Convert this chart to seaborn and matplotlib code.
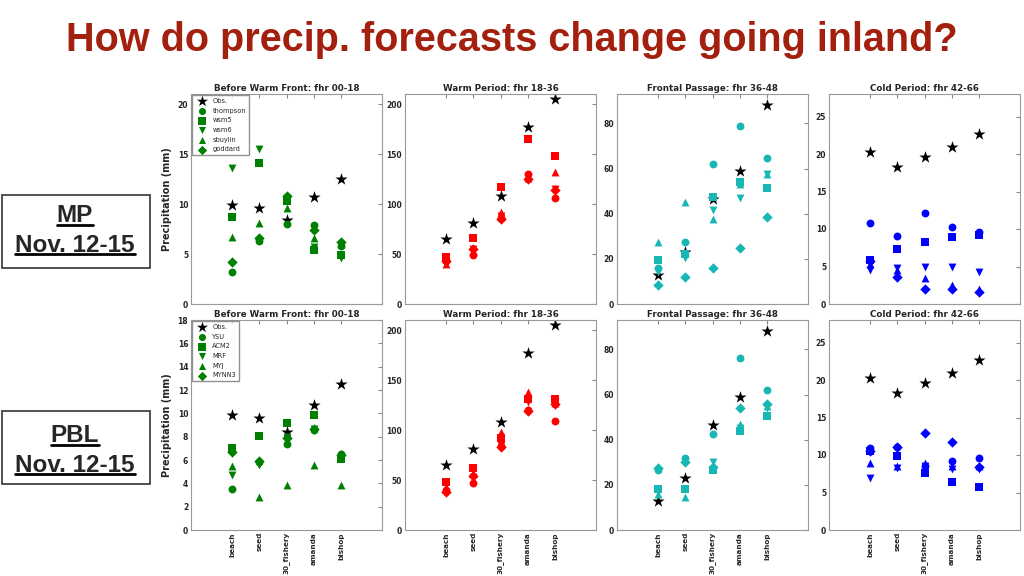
import seaborn as sns
import matplotlib.pyplot as plt
from matplotlib.patches import Rectangle
from matplotlib.lines import Line2D

sites = ["beach", "seed", "30_fishery", "amanda", "bishop"]
periods = ["Before Warm Front: fhr 00-18", "Warm Period: fhr 18-36",
           "Frontal Passage: fhr 36-48", "Cold Period: fhr 42-66"]
period_colors = ["green", "red", "#17B8B4", "blue"]

# observations, same for both rows
obs_before = [9.9, 9.6, 8.4, 10.7, 12.5]
obs_warm = [65, 81, 108, 177, 205]
obs_frontal = [13, 23, 46.5, 59, 88]
obs_cold = [20.3, 18.3, 19.6, 20.9, 22.7]

# microphysics runs: thompson, wsm5, wsm6, sbuylin, goddard
mp_names = ["thompson", "wsm5", "wsm6", "sbuylin", "goddard"]
mp_before = [[3.2, 6.3, 8.0, 7.9, 5.8],
             [8.7, 14.1, 10.3, 5.4, 4.9],
             [13.6, 15.5, 10.6, 5.7, 4.6],
             [6.7, 8.1, 9.6, 6.6, 6.0],
             [4.2, 6.6, 10.8, 7.4, 6.2]]
mp_warm = [[43, 49, 86, 130, 106],
           [47, 66, 117, 165, 148],
           [42, 55, 88, 127, 115],
           [40, 53, 92, 126, 132],
           [43, 55, 85, 125, 114]]
mp_frontal = [[16, 27.5, 62, 79, 64.5],
              [19.5, 22, 47.5, 54, 51.5],
              [14, 20.5, 41.5, 47, 57.5],
              [27.5, 45, 37.5, 53, 57.5],
              [8.5, 12, 16, 25, 38.5]]
mp_cold = [[10.8, 9.1, 12.1, 10.3, 9.6],
           [5.9, 7.3, 8.3, 9.0, 9.2],
           [4.5, 4.8, 4.9, 4.9, 4.3],
           [5.3, 4.5, 3.5, 2.6, 2.0],
           [5.7, 3.6, 2.0, 2.0, 1.6]]

# boundary layer runs: YSU, ACM2, MRF, MYJ, MYNN3
pbl_names = ["YSU", "ACM2", "MRF", "MYJ", "MYNN3"]
pbl_before = [[3.5, 5.8, 7.4, 8.6, 6.5],
              [7.0, 8.1, 9.2, 9.9, 6.1],
              [4.7, 5.6, 8.0, 8.7, 6.3],
              [5.5, 2.8, 3.9, 5.6, 3.9],
              [6.7, 5.9, 7.9, 8.7, 6.4]]
pbl_warm = [[40, 47, 84, 120, 109],
            [48, 62, 92, 131, 131],
            [45, 53, 85, 128, 128],
            [42, 57, 98, 138, 127],
            [38, 54, 83, 119, 126]]
pbl_frontal = [[26.5, 32, 42.5, 76, 62],
               [18, 18, 26.5, 44, 50.5],
               [17, 18, 30, 45, 54],
               [16, 14.5, 28.5, 47, 55],
               [27.5, 30, 28, 54, 56]]
pbl_cold = [[11.0, 11.1, 8.6, 9.2, 9.6],
            [10.6, 9.9, 7.6, 6.4, 5.8],
            [6.9, 8.3, 8.5, 8.1, 8.2],
            [9.0, 8.6, 9.0, 8.6, 8.5],
            [10.5, 11.1, 12.9, 11.7, 8.4]]

markers = ["o", "s", "v", "^", "D"]

rows = [
    (mp_names, [mp_before, mp_warm, mp_frontal, mp_cold]),
    (pbl_names, [pbl_before, pbl_warm, pbl_frontal, pbl_cold]),
]
obs_all = [obs_before, obs_warm, obs_frontal, obs_cold]
ytops = [[21, 210, 93, 28], [18, 210, 93, 28]]
yticks = [[range(0, 21, 5), range(0, 201, 50), range(0, 81, 20), range(0, 26, 5)],
          [range(0, 19, 2), range(0, 201, 50), range(0, 81, 20), range(0, 26, 5)]]

sns.set_style("white")
plt.rcParams["font.family"] = ["DejaVu Sans"]

fig = plt.figure(figsize=(10.24, 5.76), dpi=100)

lefts = [191, 405, 617, 829]
tops = [94, 320]
W, H = 191, 210

for r, (names, datasets) in enumerate(rows):
    for c in range(4):
        ax = fig.add_axes([lefts[c] / 1024, 1 - (tops[r] + H) / 576, W / 1024, H / 576])
        color = period_colors[c]
        sns.scatterplot(x=sites, y=obs_all[c], marker="*", color="black", s=85,
                        linewidth=0, label="Obs.", legend=False, ax=ax)
        for name, vals, m in zip(names, datasets[c], markers):
            sns.scatterplot(x=sites, y=vals, marker=m, color=color,
                            s=32 if m != "D" else 28, linewidth=0,
                            label=name, legend=False, ax=ax)
        ax.set_xlim(-1.5, 5.5)
        ax.set_ylim(0, ytops[r][c])
        ax.set_yticks(list(yticks[r][c]))
        ax.set_title(periods[c], fontsize=6.3, fontweight="bold", pad=2)
        ax.tick_params(direction="in", top=True, right=True, length=3,
                       color="#888888", labelsize=5.5, pad=2)
        for lab in ax.get_yticklabels():
            lab.set_fontweight("bold")
        for sp in ax.spines.values():
            sp.set_color("#999999")
            sp.set_linewidth(0.8)
        ax.set_xlabel("")
        ax.set_xticks(range(len(sites)))
        if r == 0:
            ax.set_xticklabels([])
        else:
            ax.set_xticklabels(sites, rotation=90, fontsize=5.2, fontweight="bold")
            ax.tick_params(axis="x", pad=1.5)
        if c == 0:
            ax.set_ylabel("Precipitation (mm)", fontsize=7, fontweight="bold", labelpad=4)
            ax.legend(loc="upper left", fontsize=4.8, frameon=True, fancybox=False,
                      edgecolor="#777777", borderpad=0.4, labelspacing=0.55,
                      handletextpad=0.6, borderaxespad=0.2, markerscale=0.9)
        else:
            ax.set_ylabel("")

fig.text(0.5, 0.93, "How do precip. forecasts change going inland?",
         ha="center", va="center", fontsize=28.5, fontweight="bold",
         color="#A3200E", family=["Liberation Sans", "DejaVu Sans"])

# side boxes
side_texts = []
for (y0, y1), line1, ly1, ly2 in [((195, 268), "MP", 216, 245),
                                   ((411, 484), "PBL", 436, 465)]:
    fig.add_artist(Rectangle((2 / 1024, 1 - y1 / 576), 148 / 1024, (y1 - y0) / 576,
                             transform=fig.transFigure, fill=False,
                             edgecolor="#333333", linewidth=1.2))
    for txt, ly in [(line1, ly1), ("Nov. 12-15", ly2)]:
        t = fig.text(75 / 1024, 1 - ly / 576, txt, ha="center", va="center",
                     fontsize=17.5, fontweight="bold",
                     family=["Liberation Sans", "DejaVu Sans"])
        side_texts.append(t)

fig.canvas.draw()
renderer = fig.canvas.get_renderer()
for t in side_texts:
    bb = t.get_window_extent(renderer).transformed(fig.transFigure.inverted())
    yline = bb.y0 + 2.5 / 576
    fig.add_artist(Line2D([bb.x0, bb.x1], [yline, yline], transform=fig.transFigure,
                          color="black", linewidth=2))

fig.savefig("out.png", dpi=100)
plt.close()
